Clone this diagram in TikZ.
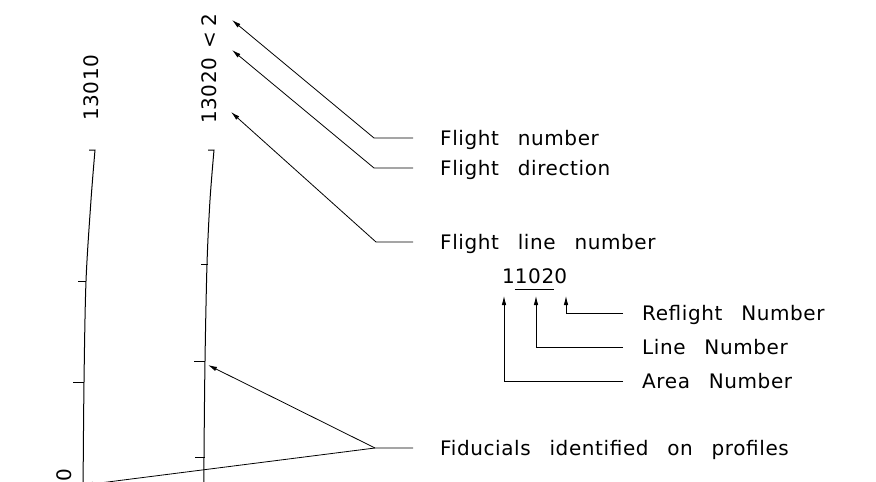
\documentclass[tikz,border=0pt]{standalone}
\usepackage{fontspec}
\setmainfont[WordSpace=2.7,LetterSpace=3]{DejaVu Sans}
\usetikzlibrary{arrows.meta}

\begin{document}
\begin{tikzpicture}[x=1pt,y=-1pt]
		\tikzset{lbl/.style={anchor=west,inner xsep=27pt,inner ysep=0pt,text height=15pt,text depth=0pt,font=\fontsize{20}{24}\selectfont},
			num/.style={rotate=90,anchor=west,inner sep=0pt,font=\fontsize{20}{24}\selectfont},
			prof/.style={line width=1pt},
			tick/.style={line width=0.8pt},
			ptr/.style={line width=0.8pt,-{Latex[length=9pt,width=4.5pt]}}}
		\useasboundingbox (0,0) rectangle (876,482);
		\clip (0,0) rectangle (876,482);

		% flight lines with fiducial ticks
		\node[num] (l1) at (91.5,121) {13010};
		\node[num] (l2) at (209.5,124) {13020\kern9pt<\kern6pt2};
		\node[num,anchor=east] (l0) at (64,469) {0};
		\draw[prof] (89,150) -- plot[smooth] coordinates {(95,150) (91,200) (86,281) (84,382) (83,495)};
		\draw[prof] (208,150) -- plot[smooth] coordinates {(214,150) (210,200) (207,264) (205,361) (204,457) (204,495)};
		\foreach \y/\a/\b in {281/78/86, 382/73/84, 264/201/208, 361/194/205, 457/195/205}
			\draw[tick] (\a,\y) -- (\b,\y);

		% flight line annotation
		\node[lbl] (fnum) at (413,138) {Flight number};
		\node[lbl] (fdir) at (413,168) {Flight direction};
		\node[lbl] (fln) at (413,242) {Flight line number};
		\coordinate (fnumk) at (374,138);
		\coordinate (fdirk) at (374,168);
		\coordinate (flnk) at (376,242);
		\draw[ptr] (fnum.west) -- (fnumk) -- (232,20);
		\draw[ptr] (fdir.west) -- (fdirk) -- (232,50);
		\draw[ptr] (fln.west) -- (flnk) -- (231,112);

		% line number code
		\node[inner sep=0pt,anchor=base west,font=\fontsize{20}{24}\selectfont] (code) at (502,283) {1\underline{\raisebox{0pt}[\height][5pt]{102}}0};
		\node[lbl,inner xsep=19pt] (refl) at (623,313) {Reflight Number};
		\node[lbl,inner xsep=19pt] (line) at (623,347) {Line Number};
		\node[lbl,inner xsep=19pt] (area) at (623,381) {Area Number};
		\coordinate (refltip) at (566,296);
		\coordinate (linetip) at (536,296);
		\coordinate (areatip) at (504,296);
		\draw[ptr] (refl.west) -| (refltip);
		\draw[ptr] (line.west) -| (linetip);
		\draw[ptr] (area.west) -| (areatip);

		% fiducials
		\node[lbl] (fid) at (413,448) {Fiducials identified on profiles};
		\coordinate (fidk) at (375,448);
		\draw[ptr] (fid.west) -- (fidk) -- (208,365);
		\draw[ptr] (fidk) -- (84,485);
\end{tikzpicture}
\end{document}
